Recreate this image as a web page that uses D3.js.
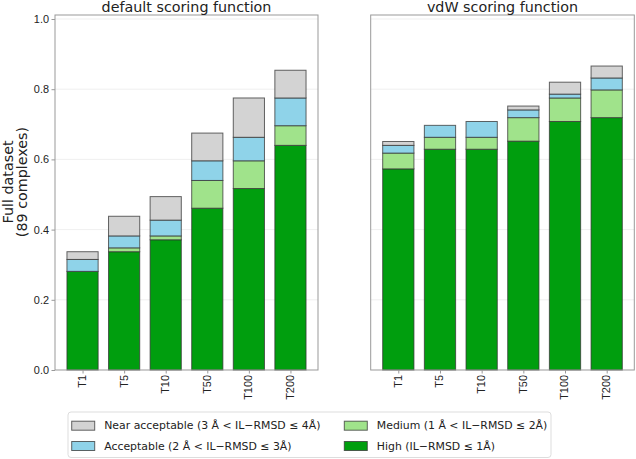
<!DOCTYPE html>
<html><head><meta charset="utf-8">
<script src="https://cdn.jsdelivr.net/npm/d3@7"></script>
<style>body{margin:0;background:#fff}svg{display:block;font-family:"DejaVu Sans",sans-serif}</style>
</head><body><svg id="c" width="636" height="459"></svg>
<script>
const categories = ["T1","T5","T10","T50","T100","T200"];
const panelTitles = ["default scoring function","vdW scoring function"];
const yTicks = [0,0.2,0.4,0.6,0.8,1.0];
const seriesNames = ["High (IL\u2212RMSD \u2264 1\u00c5)","Medium (1 \u00c5 < IL\u2212RMSD \u2264 2\u00c5)","Acceptable (2 \u00c5 < IL\u2212RMSD \u2264 3\u00c5)","Near acceptable (3 \u00c5 < IL\u2212RMSD \u2264 4\u00c5)"];
const seriesColors = ["#009e0e","#a0e38b","#8fd3e9","#d3d3d3"];
// default scoring function (fractions of 89 complexes)
const defHigh = [0.281,0.337,0.371,0.461,0.517,0.640];
const defMedium = [0.000,0.011,0.011,0.079,0.079,0.056];
const defAcceptable = [0.034,0.034,0.045,0.056,0.067,0.079];
const defNear = [0.022,0.056,0.067,0.079,0.112,0.079];
// vdW scoring function
const vdwHigh = [0.573,0.629,0.629,0.652,0.708,0.719];
const vdwMedium = [0.045,0.034,0.034,0.067,0.067,0.079];
const vdwAcceptable = [0.022,0.034,0.045,0.022,0.011,0.034];
const vdwNear = [0.011,0.000,0.000,0.011,0.034,0.034];

const panels = [
  {title: panelTitles[0], series:[defHigh,defMedium,defAcceptable,defNear], x0:55, x1:318, yAxis:true},
  {title: panelTitles[1], series:[vdwHigh,vdwMedium,vdwAcceptable,vdwNear], x0:370.7, x1:634.3, yAxis:false}
];
const svg = d3.select("#c");
const yTop = 15, yBot = 370;
const y = d3.scaleLinear().domain([0,1.0114]).range([yBot,yTop]);
const tickFont = 10.9;

panels.forEach(p=>{
  const x = d3.scaleLinear().domain([-0.6625,5.6625]).range([p.x0,p.x1]);
  const bw = x(0.75)-x(0);
  const g = svg.append("g");
  // grid
  g.selectAll("line.grid").data(yTicks.slice(1)).enter().append("line")
    .attr("x1",p.x0).attr("x2",p.x1).attr("y1",d=>y(d)).attr("y2",d=>y(d))
    .attr("stroke","#ebebeb").attr("stroke-width",0.8);
  // stacked bars
  const rows = categories.map((c,i)=>{const o={cat:c,i:i}; p.series.forEach((s,k)=>o["s"+k]=s[i]); return o;});
  const stack = d3.stack().keys(["s0","s1","s2","s3"])(rows);
  stack.forEach((layer,k)=>{
    g.selectAll(null).data(layer.filter(d=>d[1]-d[0]>0)).enter().append("rect")
      .attr("x",d=>x(d.data.i)-bw/2).attr("width",bw)
      .attr("y",d=>y(d[1])).attr("height",d=>y(d[0])-y(d[1]))
      .attr("fill",seriesColors[k]).attr("stroke","#333").attr("stroke-opacity",0.75).attr("stroke-width",1);
  });
  // frame
  g.append("rect").attr("x",p.x0).attr("y",yTop).attr("width",p.x1-p.x0).attr("height",yBot-yTop)
    .attr("fill","none").attr("stroke","#999").attr("stroke-width",1);
  // x axis
  const xa = g.append("g").attr("transform",`translate(0,${yBot})`)
    .call(d3.axisBottom(x).tickValues(d3.range(categories.length)).tickFormat(i=>categories[i]).tickSize(3.5).tickPadding(3));
  xa.select(".domain").remove();
  xa.selectAll("line").attr("stroke","#999");
  xa.selectAll("text").attr("font-size",tickFont).attr("fill","#222")
    .attr("transform","rotate(-90)").attr("text-anchor","end").attr("x",-5).attr("y",0)
    .attr("dominant-baseline","middle").attr("dy",0);
  if(p.yAxis){
    const ya = g.append("g").attr("transform",`translate(${p.x0},0)`)
      .call(d3.axisLeft(y).tickValues(yTicks).tickFormat(d3.format(".1f")).tickSize(3.5).tickPadding(2.5));
    ya.select(".domain").remove();
    ya.selectAll("line").attr("stroke","#999");
    ya.selectAll("text").attr("font-size",tickFont).attr("fill","#222");
  }
  g.append("text").attr("x",(p.x0+p.x1)/2).attr("y",12).attr("text-anchor","middle")
    .attr("font-size",14.3).attr("fill","#222").text(p.title);
});
// y label
const yl = svg.append("text").attr("transform",`translate(0,182) rotate(-90)`)
  .attr("text-anchor","middle").attr("font-size",14.3).attr("fill","#222");
yl.append("tspan").attr("x",0).attr("y",12.5).text("Full dataset");
yl.append("tspan").attr("x",0).attr("y",27).text("(89 complexes)");

// legend
const lg = svg.append("g");
lg.append("rect").attr("x",68).attr("y",412).attr("width",483).attr("height",45.5)
  .attr("rx",3).attr("fill","#fff").attr("stroke","#ddd");
const legendOrder = [3,1,2,0];
const legPos = [[71.7,425.7],[344.3,425.7],[71.7,446],[344.3,446]];
legendOrder.forEach((k,j)=>{
  const [lx,ly] = legPos[j];
  lg.append("rect").attr("x",lx).attr("y",ly-4.5).attr("width",23).attr("height",9)
    .attr("fill",seriesColors[k]).attr("stroke","#333").attr("stroke-opacity",0.75);
  lg.append("text").attr("x",lx+32.5).attr("y",ly).attr("dominant-baseline","central")
    .attr("font-size",10.9).attr("fill","#222").text(seriesNames[k]);
});
</script></body></html>
